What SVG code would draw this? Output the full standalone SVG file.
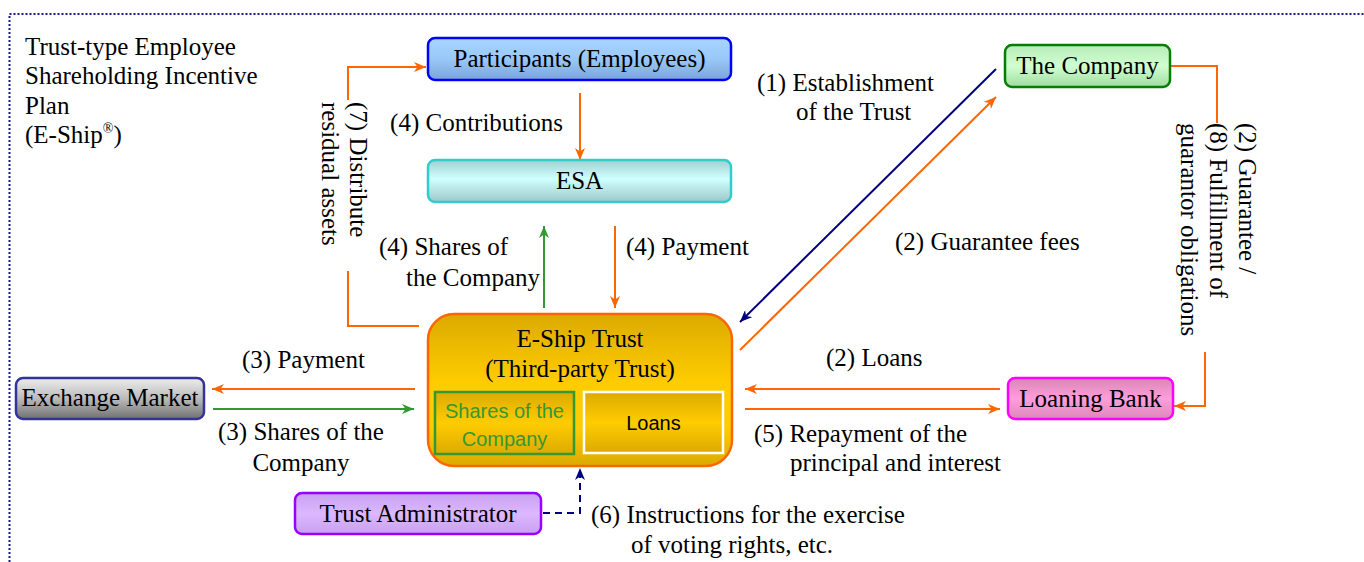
<svg xmlns="http://www.w3.org/2000/svg" width="1364" height="562" viewBox="0 0 1364 562">
<style>
text{font-family:"Liberation Serif","Times New Roman",serif;font-size:25px;fill:#000}
.c{text-anchor:middle}
.sans{font-family:"Liberation Sans",Arial,sans-serif;font-size:20px}
.or{stroke:#ff6600;stroke-width:2;fill:none}
.gr{stroke:#339933;stroke-width:2;fill:none}
.nv{stroke:#000080;stroke-width:2;fill:none}
</style>
<defs>
<marker id="aO" viewBox="0 0 12 10" refX="12" refY="5" markerWidth="12" markerHeight="10" markerUnits="userSpaceOnUse" orient="auto"><path d="M0,0 L12,5 L0,10 L3.5,5 z" fill="#ff6600"/></marker>
<marker id="aG" viewBox="0 0 12 10" refX="12" refY="5" markerWidth="12" markerHeight="10" markerUnits="userSpaceOnUse" orient="auto"><path d="M0,0 L12,5 L0,10 L3.5,5 z" fill="#339933"/></marker>
<marker id="aN" viewBox="0 0 12 10" refX="12" refY="5" markerWidth="12" markerHeight="10" markerUnits="userSpaceOnUse" orient="auto"><path d="M0,0 L12,5 L0,10 L3.5,5 z" fill="#000080"/></marker>
<linearGradient id="gBlue" x1="0" y1="0" x2="0" y2="1"><stop offset="0" stop-color="#a8d4ff"/><stop offset="0.5" stop-color="#99c8f8"/><stop offset="1" stop-color="#7aa4d8"/></linearGradient>
<linearGradient id="gCyan" x1="0" y1="0" x2="0" y2="1"><stop offset="0" stop-color="#9ed0d0"/><stop offset="0.45" stop-color="#d0ffff"/><stop offset="1" stop-color="#9cc8c8"/></linearGradient>
<linearGradient id="gGold" x1="0" y1="0" x2="0" y2="1"><stop offset="0" stop-color="#dbaa00"/><stop offset="0.45" stop-color="#ffcc00"/><stop offset="0.75" stop-color="#ffcc00"/><stop offset="1" stop-color="#dbaa00"/></linearGradient>
<linearGradient id="gGold2" x1="0" y1="0" x2="0" y2="1"><stop offset="0" stop-color="#dbaa00"/><stop offset="0.5" stop-color="#ffcc00"/><stop offset="1" stop-color="#dbaa00"/></linearGradient>
<linearGradient id="gGreen" x1="0" y1="0" x2="0" y2="1"><stop offset="0" stop-color="#b8eab8"/><stop offset="0.5" stop-color="#d0ffd0"/><stop offset="1" stop-color="#a0dca0"/></linearGradient>
<linearGradient id="gGray" x1="0" y1="0" x2="0" y2="1"><stop offset="0" stop-color="#eeeeee"/><stop offset="0.5" stop-color="#bbbbbb"/><stop offset="1" stop-color="#707070"/></linearGradient>
<linearGradient id="gPink" x1="0" y1="0" x2="0" y2="1"><stop offset="0" stop-color="#d886b4"/><stop offset="0.5" stop-color="#ff9ddd"/><stop offset="1" stop-color="#dc88b8"/></linearGradient>
<linearGradient id="gPurple" x1="0" y1="0" x2="0" y2="1"><stop offset="0" stop-color="#c8a0f0"/><stop offset="0.5" stop-color="#dcb8ff"/><stop offset="1" stop-color="#c8a0f0"/></linearGradient>
</defs>

<rect x="9.5" y="14" width="1400" height="600" fill="none" stroke="#1a1a8c" stroke-width="2" stroke-dasharray="2,2"/>

<g id="title">
<text x="25" y="55">Trust-type Employee</text>
<text x="25" y="84">Shareholding Incentive</text>
<text x="25" y="114">Plan</text>
<text x="25" y="143">(E-Ship<tspan font-size="14" dy="-10">®</tspan><tspan dy="10">)</tspan></text>
</g>

<g id="connectors">
<path class="or" d="M419,326 H348 V271" />
<path class="or" d="M348,100 V67 H426" marker-end="url(#aO)"/>
<path class="or" d="M580,93 V160" marker-end="url(#aO)"/>
<path class="gr" d="M544,308 V226" marker-end="url(#aG)"/>
<path class="or" d="M615,226 V308" marker-end="url(#aO)"/>
<path class="or" d="M415,389 H212" marker-end="url(#aO)"/>
<path class="gr" d="M213,409 H414" marker-end="url(#aG)"/>
<path class="nv" d="M996,69 L740,322" marker-end="url(#aN)"/>
<path class="or" d="M740,350 L996,97" marker-end="url(#aO)"/>
<path class="or" d="M1171,66 H1217 V123"/>
<path class="or" d="M1205,352 V406 H1174" marker-end="url(#aO)"/>
<path class="or" d="M1000,389 H745" marker-end="url(#aO)"/>
<path class="or" d="M745,409 H1000" marker-end="url(#aO)"/>
<path class="nv" d="M543,513 H580 V468" stroke-dasharray="7,5" marker-end="url(#aN)"/>
</g>

<g id="labels">
<text transform="translate(350,102) rotate(90)">(7) Distribute<tspan x="0" dy="28">residual assets</tspan></text>
<text x="563" y="131" text-anchor="end">(4) Contributions</text>
<text x="379" y="255">(4) Shares of</text>
<text x="406" y="286">the Company</text>
<text x="626" y="255">(4) Payment</text>
<text x="242" y="368">(3) Payment</text>
<text x="301" y="440" class="c">(3) Shares of the</text>
<text x="301" y="471" class="c">Company</text>
<text x="757" y="91">(1) Establishment</text>
<text x="796" y="120">of the Trust</text>
<text x="895" y="250">(2) Guarantee fees</text>
<text transform="translate(1239,123) rotate(90)">(2) Guarantee /<tspan x="0" dy="29">(8) Fulfillment of</tspan><tspan x="0" dy="29">guarantor obligations</tspan></text>
<text x="826" y="366">(2) Loans</text>
<text x="754" y="442">(5) Repayment of the</text>
<text x="790" y="471">principal and interest</text>
<text x="591" y="523">(6) Instructions for the exercise</text>
<text x="631" y="553">of voting rights, etc.</text>
</g>

<g id="participants">
<rect x="428" y="38" width="303" height="42" rx="7" fill="url(#gBlue)" stroke="#0000ff" stroke-width="2.5"/>
<text x="579.5" y="67" class="c">Participants (Employees)</text>
</g>

<g id="esa">
<rect x="428" y="160" width="303" height="42" rx="7" fill="url(#gCyan)" stroke="#33cccc" stroke-width="2.5"/>
<text x="579.5" y="189" class="c">ESA</text>
</g>

<g id="company">
<rect x="1005" y="45" width="165" height="42" rx="7" fill="url(#gGreen)" stroke="#008000" stroke-width="2.5"/>
<text x="1087.5" y="74" class="c">The Company</text>
</g>

<g id="exchange">
<rect x="16" y="378" width="188" height="41" rx="7" fill="url(#gGray)" stroke="#333399" stroke-width="2.5"/>
<text x="110" y="406" class="c">Exchange Market</text>
</g>

<g id="bank">
<rect x="1008" y="378" width="165" height="41" rx="7" fill="url(#gPink)" stroke="#ff00ff" stroke-width="2.5"/>
<text x="1090.5" y="407" class="c">Loaning Bank</text>
</g>

<g id="admin">
<rect x="295" y="493" width="246" height="41" rx="7" fill="url(#gPurple)" stroke="#9900ff" stroke-width="2.5"/>
<text x="418" y="522" class="c">Trust Administrator</text>
</g>

<g id="trust">
<rect x="428" y="314" width="304" height="152" rx="26" fill="url(#gGold)" stroke="#ff6600" stroke-width="2.5"/>
<text x="580" y="347" class="c">E-Ship Trust</text>
<text x="580" y="377" class="c">(Third-party Trust)</text>
<rect x="435" y="392" width="139" height="62" fill="url(#gGold2)" stroke="#339933" stroke-width="2.5"/>
<text x="504.5" y="418" class="c sans" style="fill:#339933">Shares of the</text>
<text x="504.5" y="446" class="c sans" style="fill:#339933">Company</text>
<rect x="584" y="392" width="139" height="61" fill="url(#gGold2)" stroke="#ffffff" stroke-width="2.5"/>
<text x="653.5" y="430" class="c sans">Loans</text>
</g>
</svg>
